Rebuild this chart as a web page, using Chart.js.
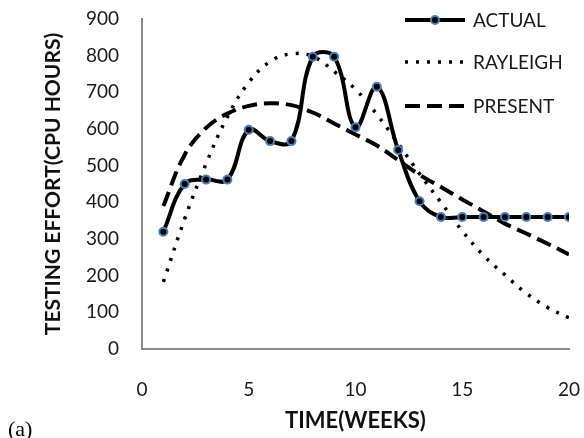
<!DOCTYPE html>
<html>
<head>
<meta charset="utf-8">
<script src="https://cdn.jsdelivr.net/npm/chart.js@4.4.1/dist/chart.umd.min.js"></script>
<style>
  body { margin: 0; background: #fff; }
  #wrap { position: relative; width: 584px; height: 438px; }
  #tag { position: absolute; left: 8px; top: 416px; font: 22px "Liberation Serif", serif; color: #000; }
</style>
</head>
<body>
<div id="wrap">
  <canvas id="chart" width="584" height="438"></canvas>
  <div id="tag">(a)</div>
</div>
<script>
/* dados */
const weeks = [1, 2, 3, 4, 5, 6, 7, 8, 9, 10, 11, 12, 13, 14, 15, 16, 17, 18, 19, 20];
const actual = [320, 450, 462, 462, 598, 567, 567, 797, 797, 605, 715, 543, 403, 360, 360, 360, 360, 360, 360, 360];
const rayleigh = [183, 355, 505, 633, 727, 784, 805, 798, 757, 708, 640, 560, 478, 400, 322, 255, 202, 152, 113, 85];
const present = [390, 530, 603, 642, 663, 670, 665, 645, 615, 585, 555, 515, 475, 442, 408, 375, 342, 315, 287, 258];
const seriesNames = ["ACTUAL", "RAYLEIGH", "PRESENT"];
const xTitle = "TIME(WEEKS)";
const yTitle = "TESTING EFFORT(CPU HOURS)";

function pts(vals) { // junta semanas e valores
  return weeks.map((w, i) => ({ x: w, y: vals[i] }));
}

const txt = "#1a1a1a";
const axisGray = "#8a8a8a";

/* legenda desenhada à mão, dentro da área do gráfico */
const legendPlugin = {
  id: "insideLegend",
  afterDraw(chart) {
    const ctx = chart.ctx;
    const x0 = 405, x1 = 465, tx = 473;
    const rows = [20, 62, 106];
    chart.data.datasets.forEach((ds, i) => {
      const y = rows[i];
      ctx.save();
      ctx.strokeStyle = ds.borderColor;
      ctx.lineWidth = ds.borderWidth;
      ctx.setLineDash(ds.borderDash || []);
      ctx.beginPath();
      ctx.moveTo(x0, y);
      ctx.lineTo(x1, y);
      ctx.stroke();
      ctx.setLineDash([]);
      if (ds.pointRadius) {
        ctx.beginPath();
        ctx.arc((x0 + x1) / 2, y, ds.pointRadius, 0, Math.PI * 2);
        ctx.fillStyle = ds.pointBackgroundColor;
        ctx.fill();
        ctx.lineWidth = ds.pointBorderWidth;
        ctx.strokeStyle = ds.pointBorderColor;
        ctx.stroke();
      }
      ctx.fillStyle = txt;
      ctx.font = "19px Lato";
      ctx.textBaseline = "middle";
      ctx.fillText(ds.label, tx, y + 1);
      ctx.restore();
    });
  }
};

const config = {
  type: "line",
  data: {
    datasets: [
      {
        label: seriesNames[0],
        data: pts(actual),
        borderColor: "#000",
        borderWidth: 4,
        tension: 0.4,
        pointRadius: 4,
        pointBackgroundColor: "#000",
        pointBorderColor: "#4a7ebb",
        pointBorderWidth: 2
      },
      {
        label: seriesNames[1],
        data: pts(rayleigh),
        borderColor: "#000",
        borderWidth: 3.5,
        borderDash: [3, 8],
        tension: 0.4,
        pointRadius: 0
      },
      {
        label: seriesNames[2],
        data: pts(present),
        borderColor: "#000",
        borderWidth: 4,
        borderDash: [15, 7],
        tension: 0.4,
        pointRadius: 0
      }
    ]
  },
  options: {
    responsive: false,
    animation: false,
    layout: { padding: { top: 19, right: 15, left: 0, bottom: 0 } },
    plugins: { legend: { display: false }, tooltip: { enabled: false } },
    scales: {
      x: {
        type: "linear",
        min: 0,
        max: 20,
        ticks: { stepSize: 5, padding: 29, color: txt, font: { family: "Lato", size: 19 } },
        grid: { display: false, drawTicks: false },
        border: { display: true, color: axisGray, width: 2 },
        title: { display: true, text: xTitle, color: "#111", font: { family: "Lato", size: 22, weight: "bold" }, padding: { top: 0, bottom: 4 } },
        afterFit(scale) {
          scale.height = 89;
          scale.paddingLeft = 0;
          scale.paddingRight = 0;
        }
      },
      y: {
        min: 0,
        max: 900,
        ticks: { stepSize: 100, padding: 23, color: txt, font: { family: "Lato", size: 19 } },
        grid: { display: false, drawTicks: false },
        border: { display: true, color: axisGray, width: 2 },
        title: { display: true, text: yTitle, color: "#111", font: { family: "Lato", size: 21, weight: "bold" }, padding: { top: 41, bottom: 0 } },
        afterFit(scale) {
          scale.width = 142;
          scale.paddingTop = 0;
          scale.paddingBottom = 0;
        }
      }
    }
  },
  plugins: [legendPlugin]
};

let myChart = new Chart(document.getElementById("chart"), config);
</script>
</body>
</html>
